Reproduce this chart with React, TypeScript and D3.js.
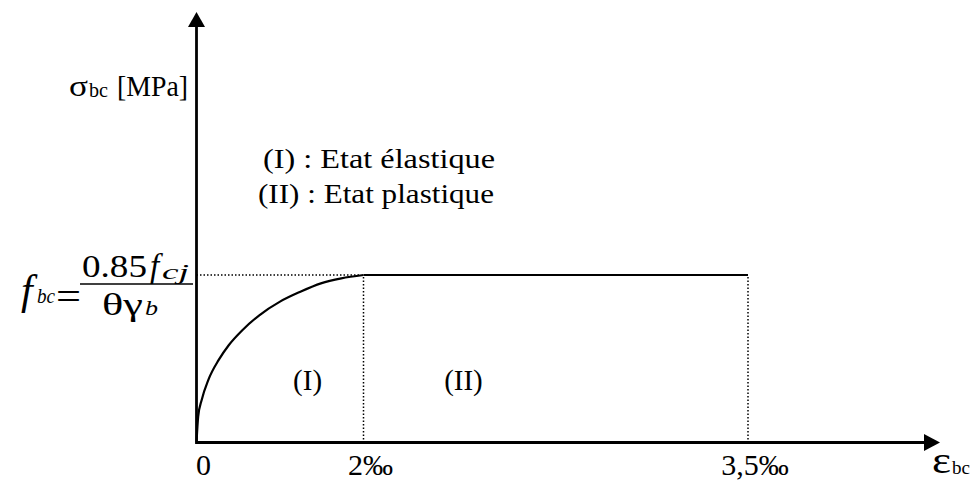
import React from 'react';
import * as d3 from 'd3';

// strain in per mille, stress as a fraction of fbc
const strainTicks = [0, 2, 3.5];
const tickLabels = ['0', '2‰', '3,5‰'];
const curveStrain = [0, 0.02, 0.062, 0.142, 0.266, 0.388, 0.552, 0.756, 1.0, 1.244, 1.49, 1.734, 2];
const curveStress = [0, 0.155, 0.254, 0.374, 0.493, 0.582, 0.672, 0.761, 0.841, 0.9, 0.95, 0.98, 1];
const plateauStrain = [2, 3.5];
const plateauStress = [1, 1];
const zoneLabels = ['(I)', '(II)'];
const zoneCenters = [1.33, 2.39];
const legendLines = ['(I) : Etat élastique', '(II) : Etat plastique'];

const axisEnd = 4.6;
const stressEnd = 2.55;
const serif = "'Liberation Serif', Tinos, 'Times New Roman', Times, serif";

export default function App() {
  const width = 977;
  const height = 482;

  // the drawing is not to scale, so the x scale is piecewise
  const x = d3.scaleLinear()
    .domain([0, 2, 3.5, axisEnd])
    .range([196.5, 363.5, 748, 940]);
  const y = d3.scaleLinear()
    .domain([0, 1, stressEnd])
    .range([442.5, 275, 12]);

  const curvePts = curveStrain.map((e, i) => [e, curveStress[i]] as [number, number]);
  const line = d3.line<[number, number]>()
    .x(d => x(d[0]))
    .y(d => y(d[1]))
    .curve(d3.curveMonotoneX);

  const plateau = plateauStrain.map((e, i) => [e, plateauStress[i]] as [number, number]);
  const x0 = x(0), y0 = y(0);
  const sa = 'spacingAndGlyphs';

  return (
    <svg width={width} height={height} style={{position: 'absolute', left: 0, top: 0}}>
      <rect width={width} height={height} fill="#fff" />

      {/* dotted guides */}
      <line x1={x0} x2={x(2) - 3} y1={y(1)} y2={y(1)} stroke="#000" strokeWidth={1.5} strokeDasharray="1.5 2" />
      {strainTicks.slice(1).map(t => (
        <line key={t} x1={x(t)} x2={x(t)} y1={y(1) + 2} y2={y0} stroke="#000" strokeWidth={1.5} strokeDasharray="1.5 2" />
      ))}

      {/* curve + plateau */}
      <path d={line(curvePts) || ''} fill="none" stroke="#000" strokeWidth={2.2} />
      <path d={line(plateau) || ''} fill="none" stroke="#000" strokeWidth={2.2} />

      {/* axes */}
      <line x1={x0} x2={x(axisEnd) - 12} y1={y0} y2={y0} stroke="#000" strokeWidth={2.8} />
      <line x1={x0} x2={x0} y1={y0 + 1.4} y2={y(stressEnd) + 12} stroke="#000" strokeWidth={2.8} />
      <path d={`M${x(axisEnd)},${y0} L${x(axisEnd) - 16},${y0 - 8.5} L${x(axisEnd) - 16},${y0 + 8.5} Z`} fill="#000" />
      <path d={`M${x0},${y(stressEnd)} L${x0 - 8.5},${y(stressEnd) + 15} L${x0 + 8.5},${y(stressEnd) + 15} Z`} fill="#000" />

      <g style={{fontFamily: serif}} fill="#000">
        {strainTicks.map((t, i) => (
          <text key={t} x={x(t) + 7} y={475} fontSize={30} textAnchor="middle">{tickLabels[i]}</text>
        ))}
        <text x={932} y={473} fontSize={38} textLength={19} lengthAdjust={sa}>ε</text>
        <text x={952} y={474} fontSize={19}>bc</text>

        <text x={69} y={96} fontSize={30} textLength={19} lengthAdjust={sa}>σ</text>
        <text x={89} y={97} fontSize={21} textLength={19} lengthAdjust={sa}>bc</text>
        <text x={117} y={96} fontSize={29} textLength={71} lengthAdjust={sa}>[MPa]</text>

        {legendLines.map((s, i) => (
          <text key={s} x={i === 0 ? 263 : 258} y={168 + i * 35} fontSize={28}
            textLength={i === 0 ? 232 : 236} lengthAdjust={sa}>{s}</text>
        ))}

        {zoneLabels.map((s, i) => (
          <text key={s} x={x(zoneCenters[i])} y={390} fontSize={29} textAnchor="middle">{s}</text>
        ))}

        {/* fbc = 0.85 fcj / (θ γb) */}
        <text x={21} y={304} fontSize={42} fontStyle="italic">f</text>
        <text x={37} y={303} fontSize={22} fontStyle="italic" textLength={18} lengthAdjust={sa}>bc</text>
        <text x={56} y={309} fontSize={38} textLength={25} lengthAdjust={sa}>=</text>
        <line x1={80} x2={193} y1={284} y2={284} stroke="#000" strokeWidth={1.5} />
        <text x={82} y={277} fontSize={31} textLength={65} lengthAdjust={sa}>0.85</text>
        <text x={150} y={277} fontSize={33} fontStyle="italic">f</text>
        <text x={162} y={279} fontSize={22} fontStyle="italic" textLength={27} lengthAdjust={sa}>cj</text>
        <text x={102} y={315} fontSize={31} textLength={41} lengthAdjust={sa}>θγ</text>
        <text x={145} y={315} fontSize={22} fontStyle="italic" textLength={13} lengthAdjust={sa}>b</text>
      </g>
    </svg>
  );
}
